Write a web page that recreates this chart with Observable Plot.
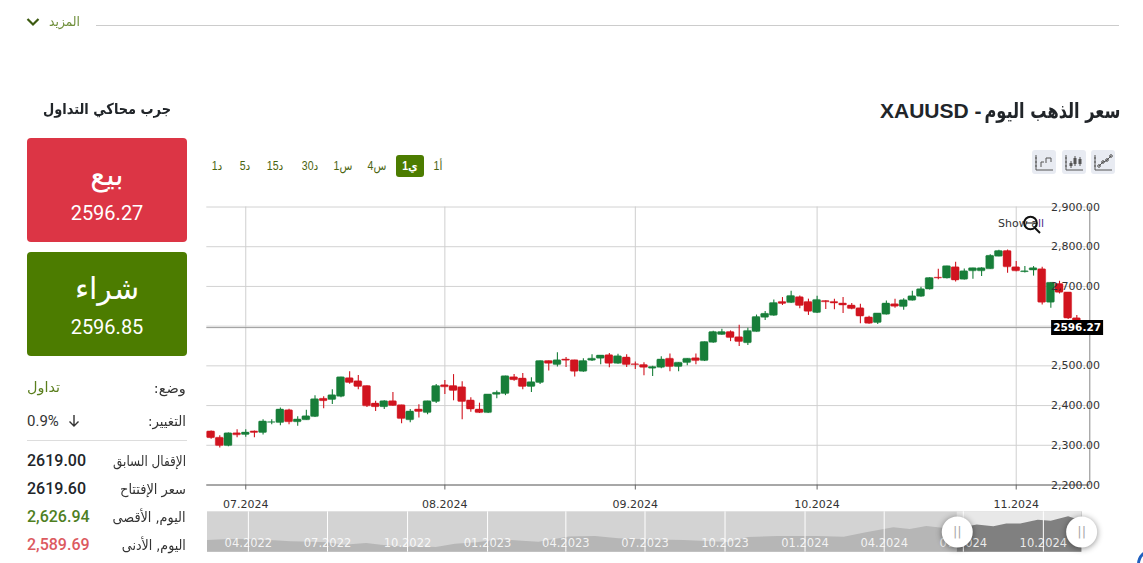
<!DOCTYPE html>
<html lang="ar">
<head>
<meta charset="utf-8">
<script src="https://cdn.jsdelivr.net/npm/d3@7"></script>
<script src="https://cdn.jsdelivr.net/npm/@observablehq/plot@0.6"></script>
<style>
html,body{margin:0;padding:0;background:#fff;width:1143px;height:563px;overflow:hidden;font-family:Roboto,"DejaVu Sans",sans-serif;color:#212529}
.a{position:absolute;white-space:nowrap}
.ar{font-family:"DejaVu Sans",sans-serif}
.btn{position:absolute;left:27px;width:160px;height:104px;border-radius:4px;color:#fff;text-align:center}
.btn .t{position:absolute;left:0;right:0;top:17px;font:30px/40px "DejaVu Sans",sans-serif}
.btn .p{position:absolute;left:0;right:0;top:62px;font:20px/26px Roboto,sans-serif}
.lab{right:957px;font:14px/18px "DejaVu Sans",sans-serif;color:#333;transform-origin:right center}
.val{left:27px;font:500 16px/20px Roboto,sans-serif}
.tf{top:157px;font:12px/18px "Liberation Sans","DejaVu Sans",sans-serif;color:#4a6410}
.ic{position:absolute;top:150px;width:24px;height:24px;background:#e8ebf2;border-radius:3px}
svg{display:block}
</style>
</head>
<body>
<div class="a" style="left:96px;width:1023px;top:25px;height:1px;background:#ccc"></div>
<svg class="a" style="left:26px;top:17px" width="14" height="10" viewBox="0 0 14 10"><path d="M1.5 2 L7 7.5 L12.5 2" fill="none" stroke="#3c5a10" stroke-width="2.2"/></svg>
<div class="a ar" data-w="31" style="left:49px;top:13px;font-size:13px;line-height:18px;color:#6f8f3a;transform-origin:left center">المزيد</div>

<div class="a ar" data-w="136" dir="rtl" style="right:23px;top:97px;font-size:21px;line-height:28px;font-weight:bold;color:#212529;transform-origin:right center">سعر الذهب اليوم</div>
<div class="a" style="left:880px;top:97px;font:bold 21px/28px 'Liberation Sans',sans-serif;color:#212529">XAUUSD -</div>
<div class="a ar" data-w="128" dir="rtl" style="left:43px;top:99px;font-size:15px;line-height:20px;font-weight:bold;color:#212529;transform-origin:left center">جرب محاكي التداول</div>

<div class="btn" style="top:138px;background:#dc3545"><div class="t">بيع</div><div class="p">2596.27</div></div>
<div class="btn" style="top:252px;background:#4c7c00"><div class="t">شراء</div><div class="p">2596.85</div></div>

<div class="a lab" dir="rtl" data-w="32" style="top:379px">وضع:</div>
<div class="a ar" data-w="33" style="left:27px;top:378px;font-size:14px;line-height:18px;color:#5b7f1e;transform-origin:left center">تداول</div>
<div class="a lab" dir="rtl" data-w="38" style="top:412px">التغيير:</div>
<div class="a" style="left:27px;top:412px;font:15px/18px Roboto,sans-serif;color:#333">0.9%</div>
<svg class="a" style="left:68px;top:414px" width="12" height="14" viewBox="0 0 12 14"><path d="M6 1 V12 M1.5 7.5 L6 12 L10.5 7.5" fill="none" stroke="#333" stroke-width="1.4"/></svg>
<div class="a" style="left:27px;width:160px;top:440px;height:1px;background:#ddd"></div>
<div class="a lab" dir="rtl" data-w="73" style="top:452px">الإقفال السابق</div><div class="a val" style="top:451px;color:#212529">2619.00</div>
<div class="a lab" dir="rtl" data-w="66" style="top:480px">سعر الإفتتاح</div><div class="a val" style="top:479px;color:#212529">2619.60</div>
<div class="a lab" dir="rtl" data-w="73" style="top:508px">اليوم, الأقصى</div><div class="a val" style="top:507px;color:#4f7f1f">2,626.94</div>
<div class="a lab" dir="rtl" data-w="64" style="top:536px">اليوم, الأدنى</div><div class="a val" style="top:535px;color:#dc5a5f">2,589.69</div>

<div class="a" style="left:396px;top:155px;width:28px;height:22px;background:#4c7c00;border-radius:3px"></div>
<div id="tfs"></div>

<div class="ic" style="left:1032px"><svg width="24" height="24" viewBox="0 0 24 24" fill="none" stroke="#555"><path d="M4 5V20H21M3 8h2M3 12h2M3 16h2"/><path d="M9 17V12H12M14 13V8H19V12" stroke-width="1"/></svg></div>
<div class="ic" style="left:1062px"><svg width="24" height="24" viewBox="0 0 24 24" fill="none" stroke="#555"><path d="M4 5V20H21M3 8h2M3 12h2M3 16h2"/><path d="M9 11V18M13 6V16M18 7V16"/><path d="M9 13V16M13 8V14M18 9V14" stroke-width="3"/></svg></div>
<div class="ic" style="left:1091px"><svg width="24" height="24" viewBox="0 0 24 24" fill="none" stroke="#555"><path d="M4 5V20H21M3 8h2M3 12h2M3 16h2"/><path d="M8 16L12 12L15 11L20 6" stroke-width="1"/><circle cx="8" cy="16" r="1.3"/><circle cx="12" cy="12" r="1.3"/><circle cx="16" cy="10" r="1.3"/><circle cx="20" cy="6" r="1.3"/></svg></div>

<div id="main" class="a" style="left:200px;top:200px"></div>
<div id="nav" class="a" style="left:200px;top:505px"></div>

<div class="a" style="left:998px;top:217px;font:11px/14px 'DejaVu Sans',sans-serif;color:#333">Show a<span style="color:#4b2a8c">ll</span></div>
<svg class="a" style="left:1020px;top:213px" width="24" height="24" viewBox="0 0 24 24" fill="none" stroke="#111"><circle cx="10.5" cy="10" r="6.3" stroke-width="2"/><path d="M15 15L20 20" stroke-width="2"/><path d="M6 10H15" stroke-width="1"/></svg>

<div class="a" style="left:1137px;top:549px;width:30px;height:30px;border-radius:50%;border:3px solid #1f5fbf;box-sizing:border-box"></div>

<script>
const open = [2335,2319,2298,2330,2326,2335,2331,2357,2356,2388,
2358,2363,2371,2417,2414,2422,2469,2461,2449,2405,
2396,2411,2401,2363,2390,2381,2409,2451,2449,2446,
2413,2390,2381,2427,2429,2471,2468,2447,2457,2512,
2502,2516,2514,2485,2513,2518,2527,2505,2521,2504,
2502,2493,2495,2518,2497,2507,2519,2512,2558,2578,
2585,2572,2557,2585,2621,2626,2661,2658,2673,2661,
2633,2663,2661,2657,2652,2645,2622,2608,2629,2655,
2648,2664,2674,2692,2722,2720,2748,2717,2738,2738,
2743,2775,2789,2748,2736,2740,2743,2659,2706,2685,2619.6];
const close = [2318,2298,2330,2325,2332,2331,2360,2358,2390,2358,
2365,2373,2416,2411,2426,2471,2457,2447,2398,2396,
2411,2399,2366,2385,2384,2411,2449,2446,2437,2409,
2390,2381,2428,2432,2474,2464,2447,2459,2512,2505,
2514,2513,2485,2512,2518,2526,2505,2524,2502,2502,
2495,2497,2516,2497,2508,2518,2512,2560,2585,2585,
2570,2560,2588,2623,2631,2658,2656,2676,2651,2636,
2666,2660,2657,2652,2643,2624,2606,2632,2657,2649,
2665,2675,2693,2721,2720,2751,2715,2738,2746,2746,
2777,2789,2748,2738,2738,2746,2659,2709,2684,2619,2596.27];
const high = [2336,2324,2331,2339,2339,2336,2364,2364,2394,2391,
2372,2388,2425,2422,2440,2471,2485,2476,2449,2411,
2412,2433,2401,2390,2402,2411,2453,2463,2478,2460,
2420,2406,2428,2437,2474,2478,2481,2470,2512,2512,
2533,2521,2514,2518,2528,2526,2531,2529,2528,2510,
2508,2499,2523,2530,2508,2518,2530,2560,2587,2592,
2588,2602,2595,2628,2637,2666,2672,2688,2676,2668,
2675,2664,2668,2672,2657,2655,2625,2632,2663,2668,
2669,2688,2698,2722,2743,2751,2761,2744,2746,2747,
2780,2791,2792,2763,2750,2750,2748,2710,2713,2685,2626.94];
const low = [2315,2293,2296,2319,2320,2319,2326,2352,2349,2352,
2348,2363,2370,2392,2403,2420,2454,2440,2395,2385,
2390,2398,2354,2357,2369,2377,2405,2428,2412,2364,
2383,2380,2380,2417,2425,2461,2440,2433,2453,2487,
2497,2496,2472,2484,2511,2503,2495,2504,2496,2491,
2475,2473,2493,2485,2485,2500,2503,2511,2557,2577,
2561,2549,2551,2585,2614,2625,2652,2657,2644,2627,
2632,2642,2641,2632,2641,2606,2605,2604,2628,2645,
2640,2663,2673,2691,2717,2719,2711,2716,2718,2725,
2743,2775,2733,2737,2734,2726,2653,2645,2681,2617,2589.69];
const monthTickIndex = [4,27,49,70,93];
const monthTickLabels = ["07.2024","08.2024","09.2024","10.2024","11.2024"];
const priceTicks = [2200,2300,2400,2500,2600,2700,2800,2900];

const navDates = ["2022-02-13","2022-03-10","2022-04-01","2022-05-01","2022-05-20","2022-06-15","2022-07-01","2022-07-20","2022-08-15","2022-09-01","2022-09-25","2022-10-15","2022-11-03","2022-11-25","2022-12-20","2023-01-15","2023-02-10","2023-03-01","2023-04-05","2023-05-05","2023-06-01","2023-07-01","2023-08-15","2023-10-05","2023-10-28","2023-12-01","2024-01-15","2024-02-15","2024-03-10","2024-04-12","2024-05-01","2024-05-20","2024-06-15","2024-06-24","2024-07-17","2024-08-05","2024-08-20","2024-09-05","2024-09-25","2024-10-10","2024-10-30","2024-11-07","2024-11-14"];
const navPrices = [1890,1930,1925,1880,1840,1830,1810,1710,1780,1710,1650,1660,1630,1750,1810,1920,1860,1830,2020,2040,1960,1915,1890,1820,2000,2040,2040,2010,2170,2370,2300,2420,2320,2330,2470,2410,2510,2510,2650,2610,2780,2700,2596];
const navTickDates = ["2022-04-01","2022-07-01","2022-10-01","2023-01-01","2023-04-01","2023-07-01","2023-10-01","2024-01-01","2024-04-01","2024-07-01","2024-10-01"];
const navTickLabels = ["04.2022","07.2022","10.2022","01.2023","04.2023","07.2023","10.2023","01.2024","04.2024","07.2024","10.2024"];
const navSelection = ["2024-06-24","2024-11-14"];
const timeframes = ["1د","5د","15د","30د","1س","4س","1ي","1أ"];
const timeframeCentres = [217,245,275,310,343,377,410,438];

timeframes.forEach((t,i)=>{
  const d=document.createElement("div");
  d.className="a tf"; d.textContent=t; d.dir="ltr";
  d.style.left=timeframeCentres[i]+"px";
  d.style.transform="translateX(-50%) scaleX(.88)";
  if(t==="1ي"){d.style.color="#fff";d.style.fontWeight="bold";}
  document.getElementById("tfs").appendChild(d);
});

// narrow the Arabic strings, whose only available face is wider than the reference's, to the reference's widths
document.querySelectorAll("[data-w]").forEach(el=>{
  const w=el.getBoundingClientRect().width;
  el.style.transform="scaleX("+(+el.dataset.w/w)+")";
});

const font = "'DejaVu Sans',sans-serif";
const candles = open.map((o,i)=>({i,o,c:close[i],h:high[i],l:low[i]}));
const colorOf = d => d.c>=d.o ? "#177e39" : "#d1141f";
const last = close[close.length-1];

const main = Plot.plot({
  width:943,height:320,marginLeft:6.3,marginRight:53.7,marginTop:6.5,marginBottom:35.5,
  style:{background:"transparent",fontFamily:font,fontSize:"11px",overflow:"visible"},
  x:{type:"band",domain:d3.range(102),paddingInner:.08,paddingOuter:.04,round:false},
  y:{domain:[2200,2900]},
  marks:[
    Plot.ruleY(priceTicks,{stroke:"#d2d2d2",strokeWidth:1}),
    Plot.ruleX(monthTickIndex,{stroke:"#cfcfcf",strokeWidth:1}),
    Plot.ruleY([last],{stroke:"#9a9a9a",strokeWidth:1}),
    Plot.ruleX(candles,{x:"i",y1:"l",y2:"h",stroke:colorOf,strokeWidth:1.1}),
    Plot.barY(candles,{x:"i",y1:"o",y2:"c",fill:colorOf,stroke:colorOf,strokeWidth:.4,rx:1}),
    Plot.ruleY([2200],{stroke:"#666",strokeWidth:1}),
    Plot.ruleX([101],{dx:4.33,stroke:"#888",strokeWidth:1}),
    Plot.axisX({ticks:monthTickIndex,tickFormat:i=>monthTickLabels[monthTickIndex.indexOf(i)],tickSize:5,tickPadding:10,stroke:"#666",fill:"#333",label:null}),
    Plot.axisY({ticks:priceTicks,anchor:"right",tickSize:0,tickPadding:0,dx:-38.7,textAnchor:"start",tickFormat:d3.format(",.2f"),fill:"#333",label:null}),
    Plot.dot([last],{y:d=>d,frameAnchor:"right",fill:"#000",stroke:null,symbol:{draw(c){c.rect(-38.7,-7.5,52,15)}}}),
    Plot.text([last],{y:d=>d,frameAnchor:"right",dx:-12.7,text:d=>d.toFixed(2),fill:"#fff",fontWeight:"bold",fontSize:10.5,textAnchor:"middle"})
  ]
});
document.getElementById("main").append(main);

const nav = navDates.map((d,i)=>({d:new Date(d),p:navPrices[i]}));
const sel = navSelection.map(d=>new Date(d));
const bottom = 1453, top_ = 2966;
const navTicks = navTickDates.map(d=>new Date(d));
const navPlot = Plot.plot({
  width:943,height:58,marginLeft:7,marginRight:61,marginTop:6.3,marginBottom:11.3,
  style:{background:"transparent",fontFamily:font,fontSize:"11px",overflow:"visible"},
  x:{type:"utc",domain:[new Date("2022-02-13"),new Date("2024-11-15")],axis:null},
  y:{domain:[bottom,top_],axis:null},
  marks:[
    Plot.rect([0],{x1:()=>new Date("2022-02-13"),x2:()=>new Date("2024-11-15"),y1:()=>bottom,y2:()=>top_,fill:"#d3d3d3"}),
    Plot.areaY(nav,{x:"d",y1:()=>bottom,y2:"p",fill:"#b6b6b6"}),
    Plot.rect([0],{x1:()=>sel[0],x2:()=>sel[1],y1:()=>bottom,y2:()=>top_,fill:"#e8e8e8"}),
    Plot.areaY(nav.filter(d=>d.d>=sel[0]),{x:"d",y1:()=>bottom,y2:"p",fill:"#808080"}),
    Plot.ruleX(navTicks,{stroke:"#fff",strokeWidth:1}),
    Plot.text(navTicks,{x:d=>d,y:()=>1797,text:(d,i)=>navTickLabels[i],fill:"#fff",fillOpacity:.85,fontSize:11.5}),
    Plot.dot(sel,{x:d=>d,y:()=>(bottom+top_)/2,r:15.5,fill:"#fff",stroke:null}),
    Plot.text(sel,{x:d=>d,y:()=>(bottom+top_)/2,text:()=>"||",fill:"#aaa",fontSize:13})
  ]
});
d3.select(navPlot).selectAll("circle").style("filter","drop-shadow(0 1px 3px rgba(0,0,0,.45))");
document.getElementById("nav").append(navPlot);
</script>
</body>
</html>
